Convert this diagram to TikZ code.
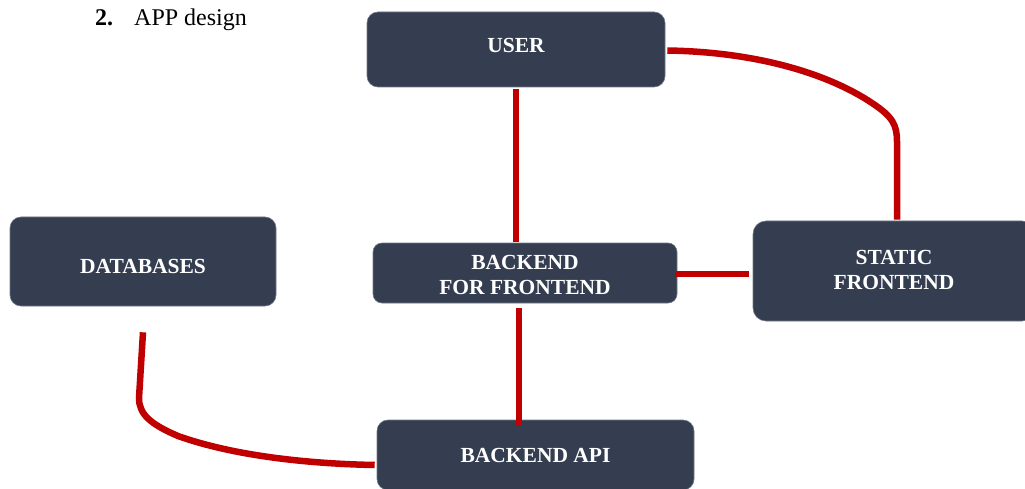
\documentclass[tikz,border=0pt]{standalone}
\usepackage{fontspec}
\setmainfont{Liberation Serif}
\definecolor{boxfill}{HTML}{343E50}
\definecolor{linkred}{HTML}{C00000}
\begin{document}
\begin{tikzpicture}[x=1pt,y=-1pt,
  block/.style={rectangle, rounded corners=11pt, fill=boxfill, draw=boxfill!70!white, line width=0.6pt, inner sep=0pt},
  lbl/.style={text=white, font=\fontsize{21.5}{25}\selectfont\bfseries, align=center, inner sep=0pt},
  link/.style={draw=linkred, line width=6.5pt},
  title/.style={anchor=base west, inner sep=0pt, font=\fontsize{24}{28}\selectfont}]
\clip (0,0) rectangle (1025,489);
\fill[white] (0,0) rectangle (1025,489);

\node[title] (num) at (95,26) {\textbf{2.}};
\node[title] (ttl) at (134,26) {APP design};

\node[block, minimum width=298pt, minimum height=75pt,
  label={[lbl,yshift=4pt]center:USER}] (user) at (516,49.5) {};
\node[block, minimum width=266pt, minimum height=89pt,
  label={[lbl,yshift=-5pt]center:DATABASES}] (db) at (143,261.5) {};
\node[block, minimum width=304pt, minimum height=60pt, rounded corners=9pt,
  label={[lbl,yshift=-2pt]center:BACKEND\\FOR FRONTEND}] (bff) at (525,273) {};
\node[block, minimum width=282pt, minimum height=100pt, rounded corners=13pt,
  label={[lbl,yshift=1pt]center:STATIC\\FRONTEND}] (static) at (894,271) {};
\node[block, minimum width=317pt, minimum height=70pt,
  label={[lbl]center:BACKEND API}] (api) at (535.5,455) {};

% USER -- BFF
\draw[link, shorten <=2pt, shorten >=1pt] (user.south) -- (user.south |- bff.north);
% BFF -- API
\draw[link, shorten <=5pt, shorten >=-5pt] ([xshift=-6pt]bff.south) -- ([xshift=-6pt]bff.south |- api.north);
% BFF -- STATIC
\draw[link, shorten >=4pt] ([xshift=-2pt,yshift=-1pt]bff.east) -- ([yshift=-1pt]static.west |- bff.east);
% USER -- STATIC
\draw[link] ([xshift=2pt,yshift=-1pt]user.east) .. controls (760,52) and (830,75) .. (872,103)
  .. controls (893,117) and (897,125) .. (897,142) -- ([xshift=3pt,yshift=1pt]static.north);
% DATABASES -- API
\draw[link] ([yshift=-26pt]db.south) -- (139,398) .. controls (139,414) and (150,424) .. (178,436)
  .. controls (240,458) and (320,464) .. ([xshift=-2pt,yshift=-10pt]api.west);
\end{tikzpicture}
\end{document}
